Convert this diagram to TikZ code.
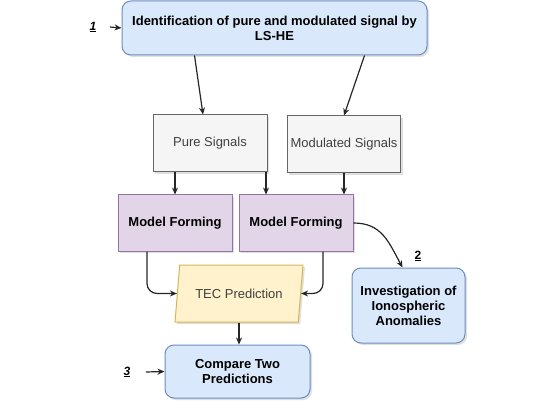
\documentclass[tikz,border=0pt]{standalone}
\usepackage{fontspec}
\setmainfont{Liberation Sans}
\usepackage{tikz}
\usetikzlibrary{arrows.meta,shapes.geometric,shadows}

\definecolor{bluefill}{HTML}{DAE8FC}
\definecolor{blueline}{HTML}{6C8EBF}
\definecolor{greyfill}{HTML}{F5F5F5}
\definecolor{greyline}{HTML}{666666}
\definecolor{purplefill}{HTML}{E1D5E7}
\definecolor{purpleline}{HTML}{9673A6}
\definecolor{yellowfill}{HTML}{FFF2CC}
\definecolor{yellowline}{HTML}{D6B656}

\tikzset{
	shade/.style={drop shadow={opacity=.25, shadow xshift=2pt, shadow yshift=-2pt}},
	stepblue/.style={shade, draw=blueline, fill=bluefill, rounded corners=9pt, line width=1pt,
		align=center, font=\fontsize{13}{15}\selectfont\bfseries},
	stepgrey/.style={shade, draw=greyline, fill=greyfill, line width=1pt,
		align=center, font=\fontsize{13}{15}\selectfont, text=black!75},
	steppurple/.style={shade, draw=purpleline, fill=purplefill, line width=1pt,
		align=center, font=\fontsize{13}{15}\selectfont\bfseries},
	arr/.style={-{Stealth[length=7pt,width=6pt]}, line width=1.2pt, black!85},
	tag/.style={font=\fontsize{12}{14}\selectfont\bfseries}
}

\begin{document}
\begin{tikzpicture}[x=1pt, y=-1pt]
	\useasboundingbox (0,0) rectangle (550,412);
	% boxes
	\node[stepblue, minimum width=305, minimum height=54] (ident) at (274.5,28)
		{Identification of pure and modulated signal by\\LS-HE};
	\node[stepgrey, minimum width=114, minimum height=57] (pure) at (210,143.5) {Pure Signals};
	\node[stepgrey, minimum width=112, minimum height=57] (modu) at (344,144.5) {Modulated Signals};
	\node[steppurple, minimum width=114, minimum height=56] (mfl) at (175,223) {Model Forming};
	\node[steppurple, minimum width=114, minimum height=56] (mfr) at (296,223) {Model Forming};
	\node[stepblue, minimum width=113, minimum height=75] (inv) at (408.5,305.5)
		{Investigation of\\Ionospheric\\Anomalies};
	\node[shade, trapezium, trapezium left angle=77, trapezium right angle=103,
		trapezium stretches=true, minimum width=128, minimum height=57,
		draw=yellowline, fill=yellowfill, line width=1pt,
		font=\fontsize{13}{15}\selectfont, text=black!75] (tec) at (239,293.5) {TEC Prediction};
	\node[stepblue, minimum width=145, minimum height=53] (cmp) at (237.5,371.5)
		{Compare Two\\Predictions};
	% step numbers
	\node[tag] (n1) at (93,27) {\textit{\underline{1}}};
	\node[tag] (n2) at (418,256) {\underline{2}};
	\node[tag] (n3) at (127,372) {\textit{\underline{3}}};
	\draw[arr] ([xshift=10]n1.east) -- (ident.west);
	\draw[arr] ([xshift=12]n3.east) -- (cmp.west);
	% connectors
	\draw[arr] ([xshift=-80]ident.south) -- ([xshift=-7]pure.north);
	\draw[arr] ([xshift=90]ident.south) -- (modu.north);
	\draw[arr] (pure.south -| mfl.north) -- (mfl.north);
	\draw[arr] ([xshift=56]pure.south) -- ([xshift=56]pure.south |- mfr.north);
	\draw[arr] (modu.south) -- (modu.south |- mfr.north);
	\draw[arr, rounded corners=10pt] ([xshift=-28]mfl.south) |- (tec.west);
	\draw[arr, rounded corners=10pt] ([xshift=27]mfr.south) |- (tec.east);
	\draw[arr] (mfr.east) .. controls +(28,0) and +(-14,-26) .. ([xshift=-6]inv.north);
	\draw[arr] (tec.south) -- (tec.south |- cmp.north);
\end{tikzpicture}
\end{document}
